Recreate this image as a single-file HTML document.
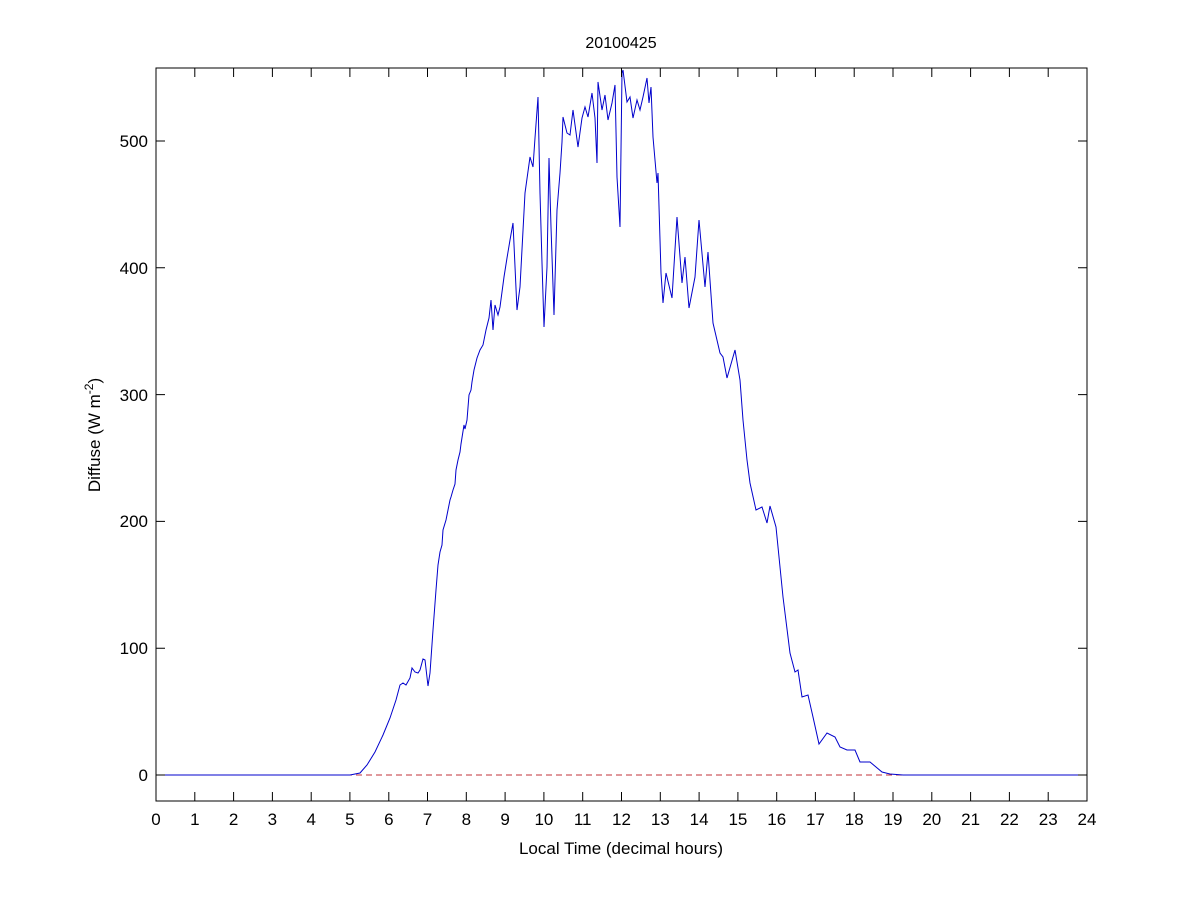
<!DOCTYPE html>
<html><head><meta charset="utf-8"><style>body{margin:0;background:#fff}</style></head><body>
<svg width="1201" height="900" xmlns="http://www.w3.org/2000/svg" font-family="Liberation Sans, Arial, sans-serif" font-size="17">
<rect width="1201" height="900" fill="#fff"/>
<line x1="156" y1="775" x2="1087" y2="775" stroke="#c0303a" stroke-width="1" stroke-dasharray="6,4"/>
<polyline fill="none" stroke="#0000cc" stroke-width="1" points="156,775 350,775 360,773 367,765 375,752 383,735 390,718 396,700 400,685 403,683 406,685 410,678 412,668 415,672 418,673 420,670 423,659 425,660 428,686 430,673 433,630 436,590 438,565 440,552 442,545 443,530 446,520 448,510 450,500 451,497 453,490 455,484 456,470 458,460 460,452 461,444 464,425 465,429 467,420 469,395 471,390 472,382 474,370 477,358 480,350 483,345 486,330 489,318 491,300 493,330 495,305 498,315 500,307 504,277 507,258 510,240 513,223 517,310 520,287 525,193 530,157 533,167 535,138 538,97 540,193 542,263 544,327 547,267 549,158 551,227 554,315 557,210 560,173 562,142 563,117 567,133 570,135 573,110 578,147 582,118 585,107 588,117 592,93 595,118 597,163 598,82 602,110 605,95 608,120 612,103 615,85 617,177 620,227 622,73 623,70 627,102 630,97 633,118 637,100 640,110 643,97 647,78 649,103 651,87 653,137 657,183 658,173 661,273 663,303 666,273 672,298 677,217 682,283 685,257 689,308 695,277 699,220 705,287 708,252 713,323 720,353 723,357 727,378 735,350 740,380 743,420 747,460 750,483 756,510 762,507 767,523 770,506 776,527 783,597 790,653 795,672 798,670 802,697 808,695 813,717 819,744 827,733 835,737 840,747 847,750 855,750 860,762 870,762 882,772 890,774 903,775 1087,775"/>
<rect x="156" y="68" width="931" height="733" fill="none" stroke="#000" stroke-width="1"/>
<g stroke="#000">
<path d="M156,775h9M156,648.2h9M156,521.4h9M156,394.6h9M156,267.8h9M156,141h9M1087,775h-9M1087,648.2h-9M1087,521.4h-9M1087,394.6h-9M1087,267.8h-9M1087,141h-9"/>
<path d="M194.8,801v-9M233.6,801v-9M272.4,801v-9M311.2,801v-9M349.9,801v-9M388.8,801v-9M427.5,801v-9M466.3,801v-9M505.1,801v-9M543.9,801v-9M582.7,801v-9M621.5,801v-9M660.3,801v-9M699.1,801v-9M737.9,801v-9M776.7,801v-9M815.4,801v-9M854.2,801v-9M893,801v-9M931.8,801v-9M970.6,801v-9M1009.4,801v-9M1048.2,801v-9"/>
<path d="M194.8,68v9M233.6,68v9M272.4,68v9M311.2,68v9M349.9,68v9M388.8,68v9M427.5,68v9M466.3,68v9M505.1,68v9M543.9,68v9M582.7,68v9M621.5,68v9M660.3,68v9M699.1,68v9M737.9,68v9M776.7,68v9M815.4,68v9M854.2,68v9M893,68v9M931.8,68v9M970.6,68v9M1009.4,68v9M1048.2,68v9"/>
</g>
<g text-anchor="end">
<text x="148" y="781">0</text><text x="148" y="654">100</text><text x="148" y="527">200</text><text x="148" y="401">300</text><text x="148" y="274">400</text><text x="148" y="147">500</text>
</g>
<g text-anchor="middle">
<text x="156" y="825">0</text><text x="194.8" y="825">1</text><text x="233.6" y="825">2</text><text x="272.4" y="825">3</text><text x="311.2" y="825">4</text><text x="349.9" y="825">5</text><text x="388.8" y="825">6</text><text x="427.5" y="825">7</text><text x="466.3" y="825">8</text><text x="505.1" y="825">9</text><text x="543.9" y="825">10</text><text x="582.7" y="825">11</text><text x="621.5" y="825">12</text><text x="660.3" y="825">13</text><text x="699.1" y="825">14</text><text x="737.9" y="825">15</text><text x="776.7" y="825">16</text><text x="815.4" y="825">17</text><text x="854.2" y="825">18</text><text x="893" y="825">19</text><text x="931.8" y="825">20</text><text x="970.6" y="825">21</text><text x="1009.4" y="825">22</text><text x="1048.2" y="825">23</text><text x="1087" y="825">24</text>
<text x="621" y="854">Local Time (decimal hours)</text>
<text x="621" y="48" font-size="16">20100425</text>
<text transform="translate(100,435) rotate(-90)">Diffuse (W m<tspan dy="-7" font-size="12">-2</tspan><tspan dy="7">)</tspan></text>
</g>
</svg>
</body></html>
